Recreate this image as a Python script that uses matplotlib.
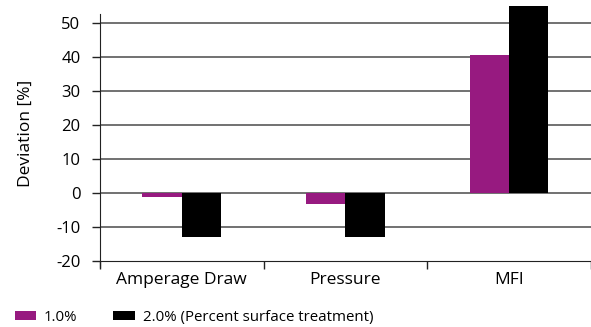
import matplotlib
matplotlib.use("Agg")
import matplotlib.pyplot as plt
import numpy as np

categories = ["Amperage Draw", "Pressure", "MFI"]
series_names = ["1.0%", "2.0% (Percent surface treatment)"]
values_1 = [-1.2, -3.4, 40.5]
values_2 = [-13.0, -13.0, 54.9]
yticks = [-20, -10, 0, 10, 20, 30, 40, 50]

plt.rcParams['font.family'] = ['Open Sans', 'DejaVu Sans']

fig = plt.figure(figsize=(5.91, 3.27), dpi=100)
ax = fig.add_axes([0.169, 0.182, 0.831, 0.818])

x = np.arange(len(categories))
w = 0.24
ax.bar(x - w/2, values_1, w, color="#971a80", label=series_names[0], zorder=3, clip_on=False)
ax.bar(x + w/2, values_2, w, color="#000000", label=series_names[1], zorder=3, clip_on=False)

ax.set_xlim(-0.5, 2.5)
ax.set_ylim(-22, 56.7)
for yv in yticks[1:]:
    ax.axhline(yv, color="#4a4a4a", lw=1.1, zorder=1)

ax.spines['top'].set_visible(False)
ax.spines['right'].set_visible(False)
ax.spines['left'].set_bounds(-22, 52.6)
ax.spines['bottom'].set_position(('data', -20))
ax.spines['left'].set_color("#222222")
ax.spines['bottom'].set_color("#222222")

ax.set_yticks(yticks)
ax.set_yticklabels([str(v) for v in yticks], fontsize=12)
ax.tick_params(axis='y', length=6, width=1, color="#222222", pad=8)

ax.set_xticks([-0.5, 0.5, 1.5, 2.5])
ax.set_xticklabels([])
ax.tick_params(axis='x', which='major', length=6, width=1, color="#222222")
ax.set_xticks(x, minor=True)
ax.set_xticklabels(categories, minor=True, fontsize=12.5)
ax.tick_params(axis='x', which='minor', length=0, pad=8)

ax.set_ylabel("Deviation [%]", fontsize=12.5, labelpad=16)

fig.legend(loc='lower left', bbox_to_anchor=(0.002, -0.035), ncol=2, frameon=False,
           fontsize=10.8, handlelength=1.45, handleheight=0.5, columnspacing=2.4,
           handletextpad=0.5)

fig.savefig("out.png", dpi=100)
